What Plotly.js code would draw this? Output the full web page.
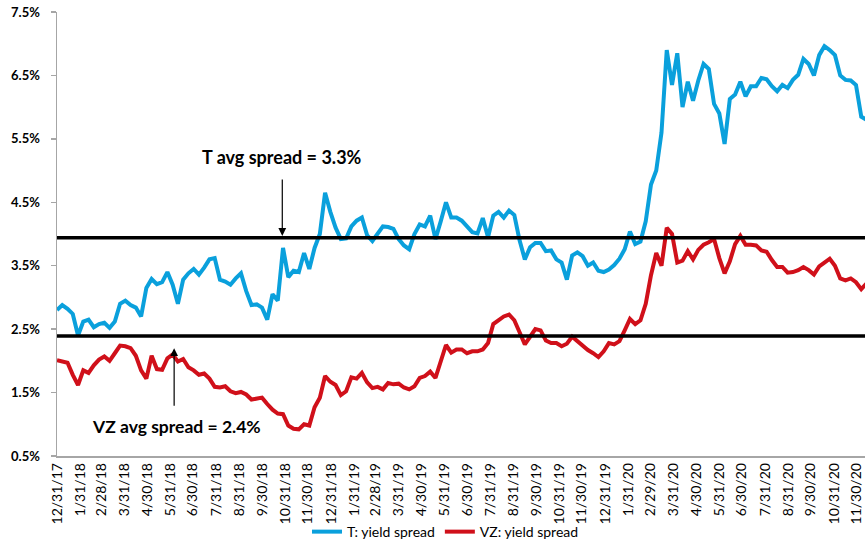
<!DOCTYPE html>
<html>
<head>
<meta charset="utf-8">
<script src="https://cdn.plot.ly/plotly-3.0.1.min.js"></script>
<style>
html,body{margin:0;padding:0;background:#fff;}
#chart{width:865px;height:544px;}
</style>
</head>
<body>
<div id="chart"></div>
<script>
// Weekly observations starting 2017-12-31 (yield spread, %)
const START_DATE = '2017-12-31';
const WEEK_MS = 7 * 24 * 3600 * 1000;

const T_SPREAD = [
 2.80,2.88,2.82,2.74,2.40,2.62,2.65,2.53,2.58,2.60,
 2.52,2.62,2.90,2.95,2.88,2.84,2.70,3.15,3.29,3.21,
 3.24,3.40,3.20,2.90,3.28,3.38,3.45,3.36,3.47,3.60,
 3.62,3.28,3.25,3.20,3.30,3.38,3.10,2.88,2.89,2.84,
 2.65,3.05,2.95,3.78,3.32,3.42,3.40,3.70,3.45,3.78,
 4.00,4.65,4.35,4.10,3.92,3.93,4.12,4.21,4.26,3.98,
 3.89,4.00,4.12,4.11,4.08,3.92,3.82,3.76,4.00,4.15,
 4.12,4.29,3.92,4.20,4.50,4.26,4.26,4.21,4.12,4.03,
 4.01,4.25,3.95,4.29,4.35,4.26,4.37,4.30,3.90,3.60,
 3.79,3.86,3.86,3.73,3.74,3.60,3.55,3.28,3.66,3.71,
 3.65,3.50,3.55,3.42,3.40,3.44,3.51,3.61,3.76,4.04,
 3.84,3.88,4.20,4.78,5.00,5.60,6.90,6.35,6.85,6.00,
 6.40,6.10,6.42,6.68,6.60,6.05,5.90,5.42,6.13,6.20,
 6.40,6.17,6.33,6.33,6.46,6.44,6.33,6.25,6.35,6.30,
 6.43,6.51,6.76,6.68,6.50,6.82,6.96,6.90,6.82,6.50,
 6.43,6.42,6.35,5.85,5.80
];

const VZ_SPREAD = [
 2.01,1.99,1.97,1.78,1.62,1.85,1.81,1.93,2.02,2.07,
 2.00,2.12,2.24,2.23,2.20,2.08,1.85,1.72,2.08,1.87,
 1.86,2.04,2.10,1.99,2.03,1.90,1.85,1.78,1.80,1.72,
 1.59,1.58,1.60,1.52,1.49,1.51,1.47,1.39,1.41,1.42,
 1.32,1.23,1.17,1.16,0.98,0.93,0.92,1.00,0.98,1.27,
 1.42,1.76,1.67,1.62,1.46,1.52,1.74,1.72,1.81,1.66,
 1.57,1.59,1.55,1.65,1.63,1.64,1.58,1.55,1.60,1.73,
 1.76,1.83,1.73,2.00,2.25,2.13,2.18,2.18,2.12,2.15,
 2.15,2.18,2.28,2.58,2.65,2.70,2.73,2.64,2.45,2.26,
 2.38,2.50,2.48,2.32,2.28,2.28,2.23,2.27,2.38,2.31,
 2.23,2.17,2.12,2.06,2.15,2.28,2.26,2.31,2.48,2.66,
 2.58,2.64,2.90,3.35,3.70,3.50,4.10,4.00,3.55,3.58,
 3.73,3.60,3.75,3.83,3.87,3.92,3.62,3.38,3.57,3.84,
 3.97,3.83,3.83,3.82,3.74,3.72,3.59,3.48,3.48,3.39,
 3.40,3.43,3.48,3.43,3.36,3.49,3.55,3.61,3.50,3.30,
 3.27,3.30,3.24,3.13,3.22
];

const AVG_LINES = [3.94, 2.39];

const TICK_DATES = [
 '2017-12-31','2018-01-31','2018-02-28','2018-03-31','2018-04-30','2018-05-31',
 '2018-06-30','2018-07-31','2018-08-31','2018-09-30','2018-10-31','2018-11-30',
 '2018-12-31','2019-01-31','2019-02-28','2019-03-31','2019-04-30','2019-05-31',
 '2019-06-30','2019-07-31','2019-08-31','2019-09-30','2019-10-31','2019-11-30',
 '2019-12-31','2020-01-31','2020-02-29','2020-03-31','2020-04-30','2020-05-31',
 '2020-06-30','2020-07-31','2020-08-31','2020-09-30','2020-10-31','2020-11-30'
];
const TICK_LABELS = [
 '12/31/17','1/31/18','2/28/18','3/31/18','4/30/18','5/31/18',
 '6/30/18','7/31/18','8/31/18','9/30/18','10/31/18','11/30/18',
 '12/31/18','1/31/19','2/28/19','3/31/19','4/30/19','5/31/19',
 '6/30/19','7/31/19','8/31/19','9/30/19','10/31/19','11/30/19',
 '12/31/19','1/31/20','2/29/20','3/31/20','4/30/20','5/31/20',
 '6/30/20','7/31/20','8/31/20','9/30/20','10/31/20','11/30/20'
];

const Y_TICKS = [0.5,1.5,2.5,3.5,4.5,5.5,6.5,7.5];
const Y_LABELS = ['0.5%','1.5%','2.5%','3.5%','4.5%','5.5%','6.5%','7.5%'];

const SERIES_NAMES = ['T: yield spread', 'VZ: yield spread'];
const T_NOTE = 'T avg spread = 3.3%';
const VZ_NOTE = 'VZ avg spread = 2.4%';

const FONT = 'Lato, "Open Sans", "Liberation Sans", sans-serif';

const traces = [
  {type:'scatter', mode:'lines', name:SERIES_NAMES[0], y:T_SPREAD,
   x0:START_DATE, dx:WEEK_MS, line:{color:'#0aa0dc', width:4}},
  {type:'scatter', mode:'lines', name:SERIES_NAMES[1], y:VZ_SPREAD,
   x0:START_DATE, dx:WEEK_MS, line:{color:'#d0101a', width:4}}
];

const shapes = AVG_LINES.map(v => ({
  type:'line', xref:'paper', x0:0, x1:1, yref:'y', y0:v, y1:v,
  line:{color:'#000', width:3.5}
}));

const annotations = [
  {x:'2018-10-27', y:3.97, xref:'x', yref:'y', text:'', showarrow:true,
   ax:0, ay:-58, arrowhead:2, arrowsize:1.3, arrowwidth:1.2, arrowcolor:'#000'},
  {x:'2018-10-27', y:5.21, xref:'x', yref:'y', text:T_NOTE, showarrow:false,
   font:{family:FONT, size:18, color:'#000', weight:'bold'}},
  {x:'2018-06-05', y:2.20, xref:'x', yref:'y', text:'', showarrow:true,
   ax:0, ay:59, arrowhead:2, arrowsize:1.3, arrowwidth:1.2, arrowcolor:'#000'},
  {x:'2018-06-08', y:0.96, xref:'x', yref:'y', text:VZ_NOTE, showarrow:false,
   font:{family:FONT, size:17.5, color:'#000', weight:'bold'}}
];

const layout = {
  width:865, height:544,
  margin:{l:57, r:0, t:12, b:88},
  paper_bgcolor:'#fff', plot_bgcolor:'#fff',
  font:{family:FONT, size:12, color:'#000'},
  showlegend:true,
  legend:{orientation:'h', xref:'container', x:0.515, xanchor:'center',
          yref:'container', y:0.022, yanchor:'middle',
          bgcolor:'rgba(0,0,0,0)',
          font:{family:FONT, size:14, color:'#000'}, itemwidth:30, tracegroupgap:0},
  xaxis:{type:'date', range:['2017-12-31','2020-12-11'],
         tickmode:'array', tickvals:TICK_DATES, ticktext:TICK_LABELS,
         tickangle:-90, tickfont:{family:FONT, size:14, color:'#000'},
         showgrid:false, zeroline:false, showline:true, linecolor:'#a6a6a6', linewidth:1.5,
         ticks:'', fixedrange:true},
  yaxis:{range:[0.5,7.5], tickmode:'array', tickvals:Y_TICKS, ticktext:Y_LABELS,
         tickfont:{family:FONT, size:13, color:'#000', weight:'bold'},
         showgrid:false, zeroline:false, showline:true, linecolor:'#a6a6a6', linewidth:1.5,
         ticks:'outside', ticklen:5, tickcolor:'#a6a6a6', tickwidth:1.5,
         ticklabelstandoff:8, fixedrange:true},
  shapes:shapes,
  annotations:annotations
};

Plotly.newPlot('chart', traces, layout, {displayModeBar:false, staticPlot:true});
</script>
</body>
</html>
